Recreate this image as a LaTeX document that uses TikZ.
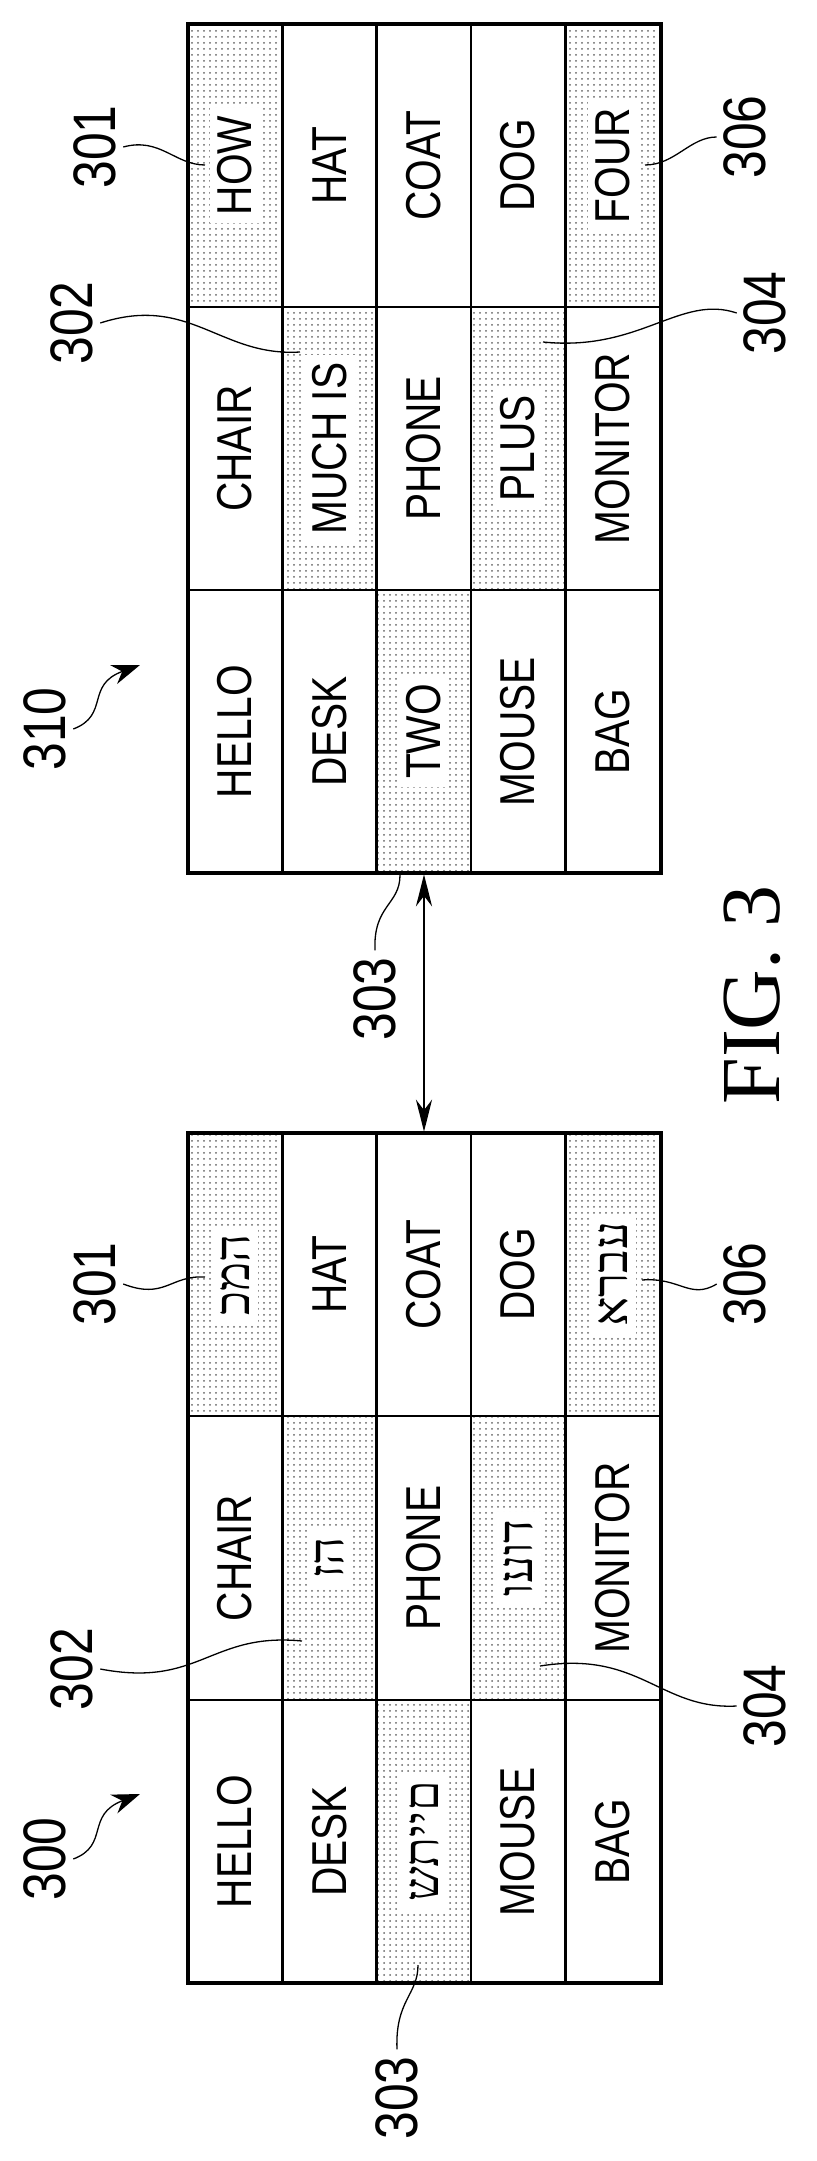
\documentclass[tikz,border=0pt]{standalone}
\usepackage{fontspec}
\setmainfont{Liberation Serif}
\newfontfamily\cellfont[FakeStretch=0.83]{Liberation Sans}
\newfontfamily\hebfont{Liberation Serif}
\usetikzlibrary{patterns,arrows.meta}

\tikzset{
  cell/.style={draw, line width=1.3pt, rotate=90, minimum height=47pt, inner sep=0pt},
  shade/.style={pattern=dots, pattern color=black!60},
  plain/.style={},
  word/.style={rotate=90, font=\cellfont\fontsize{24.5}{26}\selectfont, inner sep=4pt},
  shade word/.style={fill=white},
  plain word/.style={},
  refnum/.style={rotate=90, font=\cellfont\fontsize{30}{32}\selectfont},
  leader/.style={line width=0.65pt},
}

\begin{document}
\begin{tikzpicture}[x=0.5pt, y=-0.5pt]
  \useasboundingbox (0,0) rectangle (816,2161);

  % upper table (310)
  \foreach \n/\x/\y/\h/\s/\t in {
      u11/235/165.5/283/shade/HOW, u21/329.5/165.5/283/plain/HAT, u31/424/165.5/283/plain/COAT,
      u41/518/165.5/283/plain/DOG, u51/613/165.5/283/shade/FOUR,
      u12/235/448.5/283/plain/CHAIR, u22/329.5/448.5/283/shade/MUCH IS, u32/424/448.5/283/plain/PHONE,
      u42/518/448.5/283/shade/PLUS, u52/613/448.5/283/plain/MONITOR,
      u13/235/731.5/283/plain/HELLO, u23/329.5/731.5/283/plain/DESK, u33/424/731.5/283/shade/TWO,
      u43/518/731.5/283/plain/MOUSE, u53/613/731.5/283/plain/BAG}{
    \node[cell, \s, minimum width=\h*0.5pt] (\n) at (\x,\y) {};
    \node[word, \s\space word] at (\n) {\t};
  }
  \draw[line width=2.2pt] (188,24) rectangle (661,873);

  % lower table (300)
  \foreach \n/\x/\y/\h/\s/\t in {
      l11/235/1274.5/283/shade/{\hebfont המכ}, l21/329.5/1274.5/283/plain/HAT, l31/424/1274.5/283/plain/COAT,
      l41/518/1274.5/283/plain/DOG, l51/613/1274.5/283/shade/{\hebfont עברא},
      l12/235/1558/284/plain/CHAIR, l22/329.5/1558/284/shade/{\hebfont הז}, l32/424/1558/284/plain/PHONE,
      l42/518/1558/284/shade/{\hebfont דועו}, l52/613/1558/284/plain/MONITOR,
      l13/235/1841.5/283/plain/HELLO, l23/329.5/1841.5/283/plain/DESK, l33/424/1841.5/283/shade/{\hebfont םייתש},
      l43/518/1841.5/283/plain/MOUSE, l53/613/1841.5/283/plain/BAG}{
    \node[cell, \s, minimum width=\h*0.5pt] (\n) at (\x,\y) {};
    \node[word, \s\space word] at (\n) {\t};
  }
  \draw[line width=2.2pt] (188,1133) rectangle (661,1983);

  % link between the tables
  \draw[{Stealth[length=16pt,width=8pt]}-{Stealth[length=16pt,width=8pt]}, line width=1.1pt]
    (u33.west) -- (l31.east);

  % reference numerals
  \node[refnum] (n310) at (45,729) {310};
  \node[refnum] (n300) at (45,1859) {300};
  \node[refnum] (u301) at (95,147) {301};
  \node[refnum] (u302) at (72,323) {302};
  \node[refnum] (u306) at (745,137) {306};
  \node[refnum] (u304) at (765,313) {304};
  \node[refnum] (l301) at (95,1284) {301};
  \node[refnum] (l306) at (745,1284) {306};
  \node[refnum] (l302) at (72,1669) {302};
  \node[refnum] (l304) at (765,1706) {304};
  \node[refnum] (l303) at (397,2098) {303};
  \node[refnum] (m303) at (375,999) {303};
  \node[rotate=90, font=\fontsize{42}{44}\selectfont] (fig) at (752,995) {FIG. 3};

  % leader ends
  \coordinate (c310) at (140,665);
  \coordinate (c300) at (140,1794);
  \coordinate (cu301) at (205,165);
  \coordinate (cu302) at (300,352);
  \coordinate (cu306) at (645,165);
  \coordinate (cu304) at (543,342);
  \coordinate (cl301) at (205,1277);
  \coordinate (cl306) at (642,1280);
  \coordinate (cl302) at (302,1641);
  \coordinate (cl304) at (540,1666);
  \coordinate (cl303) at (418,1965);
  \coordinate (cm303) at (400,875);

  \draw[leader, -{Stealth[length=14pt,width=10pt]}] (n310.south) .. controls (110,715) and (85,685) .. (c310);
  \draw[leader, -{Stealth[length=14pt,width=10pt]}] (n300.south) .. controls (110,1845) and (85,1815) .. (c300);
  \draw[leader] (u301.south) .. controls (160,137) and (175,165) .. (cu301);
  \draw[leader] (u302.south) .. controls (190,294) and (220,357) .. (cu302);
  \draw[leader] (u306.north) .. controls (690,137) and (675,165) .. (cu306);
  \draw[leader] (u304.north) .. controls (680,294) and (640,352) .. (cu304);
  \draw[leader] (l301.south) .. controls (165,1300) and (170,1275) .. (cl301);
  \draw[leader] (l306.north) .. controls (690,1300) and (680,1277) .. (cl306);
  \draw[leader] (l302.south) .. controls (200,1688) and (210,1632) .. (cl302);
  \draw[leader] (l304.north) .. controls (660,1710) and (640,1650) .. (cl304);
  \draw[leader] (l303.east) .. controls (395,2000) and (418,1995) .. (cl303);
  \draw[leader] (m303.east) .. controls (373,905) and (400,905) .. (cm303);
\end{tikzpicture}
\end{document}
